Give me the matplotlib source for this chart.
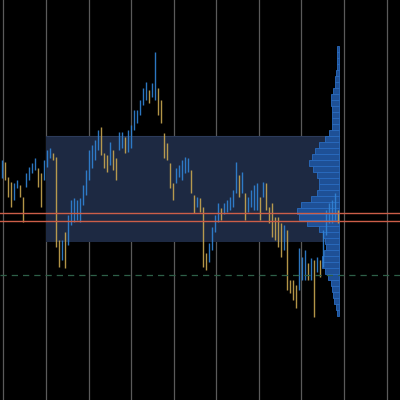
import matplotlib
matplotlib.use("Agg")
import matplotlib.pyplot as plt
import numpy as np
from matplotlib.patches import Rectangle

# bar highs / lows (price)
highs = [1.0840, 1.0838, 1.0823, 1.0818, 1.0817, 1.0820, 1.0815, 1.0803, 1.0827, 1.0833,
         1.0837, 1.0842, 1.0832, 1.0827, 1.0840, 1.0850, 1.0852, 1.0847, 1.0843, 1.0760,
         1.0760, 1.0768, 1.0785, 1.0800, 1.0802, 1.0800, 1.0802, 1.0815, 1.0830, 1.0850,
         1.0855, 1.0860, 1.0870, 1.0873, 1.0847, 1.0845, 1.0858, 1.0850, 1.0842, 1.0868,
         1.0868, 1.0863, 1.0870, 1.0875, 1.0890, 1.0890, 1.0900, 1.0912, 1.0918, 1.0910,
         1.0917, 1.0948, 1.0912, 1.0900, 1.0867, 1.0857, 1.0837, 1.0817, 1.0832, 1.0835,
         1.0840, 1.0843, 1.0842, 1.0830, 1.0805, 1.0803, 1.0802, 1.0793, 1.0747, 1.0757,
         1.0773, 1.0785, 1.0797, 1.0792, 1.0797, 1.0800, 1.0803, 1.0810, 1.0838, 1.0825,
         1.0828, 1.0807, 1.0803, 1.0810, 1.0815, 1.0817, 1.0803, 1.0818, 1.0817, 1.0793,
         1.0797, 1.0783, 1.0783, 1.0777, 1.0775, 1.0770, 1.0720, 1.0720, 1.0715, 1.0752,
         1.0743, 1.0750, 1.0737, 1.0742, 1.0740, 1.0743, 1.0740, 1.0770, 1.0790, 1.0797,
         1.0800, 1.0807, 1.0790]
lows = [1.0822, 1.0820, 1.0803, 1.0793, 1.0800, 1.0812, 1.0803, 1.0778, 1.0813, 1.0820,
        1.0827, 1.0830, 1.0813, 1.0793, 1.0820, 1.0833, 1.0842, 1.0840, 1.0753, 1.0733,
        1.0740, 1.0732, 1.0755, 1.0775, 1.0778, 1.0780, 1.0778, 1.0795, 1.0805, 1.0820,
        1.0832, 1.0840, 1.0850, 1.0845, 1.0832, 1.0828, 1.0835, 1.0830, 1.0820, 1.0850,
        1.0852, 1.0847, 1.0848, 1.0852, 1.0870, 1.0877, 1.0885, 1.0895, 1.0900, 1.0897,
        1.0903, 1.0900, 1.0885, 1.0877, 1.0842, 1.0840, 1.0812, 1.0800, 1.0817, 1.0823,
        1.0820, 1.0827, 1.0828, 1.0807, 1.0787, 1.0793, 1.0788, 1.0733, 1.0730, 1.0738,
        1.0750, 1.0768, 1.0778, 1.0780, 1.0786, 1.0788, 1.0790, 1.0793, 1.0807, 1.0803,
        1.0807, 1.0780, 1.0788, 1.0793, 1.0790, 1.0790, 1.0780, 1.0803, 1.0790, 1.0777,
        1.0763, 1.0760, 1.0753, 1.0743, 1.0750, 1.0710, 1.0707, 1.0700, 1.0692, 1.0710,
        1.0720, 1.0720, 1.0720, 1.0720, 1.0683, 1.0728, 1.0723, 1.0733, 1.0765, 1.0777,
        1.0777, 1.0780, 1.0777]

# volume profile, top bin first
profile_top = 1.0954
profile_step = 0.0006
profile_vol = [2, 2, 2, 2, 3, 4, 4, 6, 8, 8, 7, 7, 7, 7, 10, 14, 20, 24, 27, 30,
               26, 22, 20, 20, 22, 28, 38, 42, 40, 32, 20, 16, 14, 13, 15, 17, 17, 14, 11, 8,
               7, 6, 5, 3, 2]

va_high = 1.0864
va_low = 1.07583
level_1 = 1.07873
level_2 = 1.07787
level_3 = 1.07247

fig = plt.figure(figsize=(4, 4), dpi=100, facecolor="black")
ax = fig.add_axes([0, 0, 1, 1])
ax.set_facecolor("black")

n = len(highs)
xs = np.arange(n)
mids = (np.array(highs) + np.array(lows)) / 2
right = n - 0.5

# grid
for gx in np.arange(0.6, 135, 14.2):
    ax.axvline(gx, color="#5a5a5a", lw=0.9, zorder=1)

# value area box
ax.add_patch(Rectangle((14.9, va_low), right - 14.9, va_high - va_low,
                       facecolor="#1d2942", edgecolor="none", zorder=2))
ax.plot([14.9, right], [va_high, va_high], color="#2c3b5a", lw=0.8, zorder=2)

# profile
scale = 14.0 / max(profile_vol)
for k, v in enumerate(profile_vol):
    top = profile_top - k * profile_step
    ax.add_patch(Rectangle((right - v * scale, top - profile_step), v * scale, profile_step,
                           facecolor="#1e5096", edgecolor="#2a6cc0", lw=0.6, zorder=3))

# price bars
for i in xs:
    up = i == 0 or mids[i] >= mids[i - 1]
    c = "#3184d6" if up else "#c8a650"
    ax.plot([i, i], [lows[i], highs[i]], color=c, lw=1.0, alpha=0.9,
            solid_capstyle="butt", zorder=4)

ax.axhline(level_1, color="#cc5e48", lw=1.0, zorder=5)
ax.axhline(level_2, color="#cc5e48", lw=1.0, zorder=5)
ax.axhline(level_3, color="#2e6048", lw=0.9, ls=(0, (5, 4)), zorder=5)

ax.set_xlim(-0.5, 400 / 3 - 0.5)
ax.set_ylim(1.06, 1.10)
ax.set_xticks([])
ax.set_yticks([])
for s in ax.spines.values():
    s.set_visible(False)

fig.savefig("out.png", dpi=100, facecolor="black")
